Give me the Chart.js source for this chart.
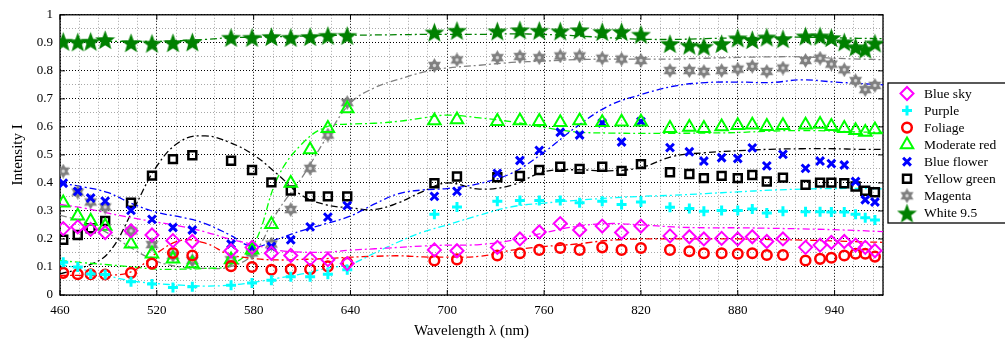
<!DOCTYPE html>
<html>
<head>
<meta charset="utf-8">
<script src="https://cdn.jsdelivr.net/npm/chart.js@4.4.1/dist/chart.umd.min.js"></script>
<style>
html, body { margin: 0; padding: 0; background: #fff; }
#graph { display: block; }
</style>
</head>
<body>
<canvas id="graph" width="1005" height="345"></canvas>
<script>
// measured samples (nm)
const wavelengths = [462, 471, 479, 488, 504, 517, 530, 542, 566, 579, 591, 603, 615, 626, 638, 692, 706, 731, 745, 757,
                     770, 782, 796, 808, 820, 838, 850, 859, 870, 880, 889, 898, 908, 922, 931, 938, 946, 953, 959, 965];

const blueSky     = [0.237, 0.243, 0.234, 0.223, 0.229, 0.214, 0.194, 0.191, 0.158, 0.170, 0.149, 0.141, 0.129, 0.126, 0.112, 0.161, 0.158, 0.170, 0.200, 0.225,
                     0.255, 0.232, 0.246, 0.223, 0.246, 0.211, 0.208, 0.200, 0.202, 0.200, 0.208, 0.191, 0.200, 0.170, 0.178, 0.188, 0.191, 0.178, 0.170, 0.158];
const purple      = [0.117, 0.100, 0.075, 0.073, 0.047, 0.039, 0.027, 0.029, 0.035, 0.043, 0.053, 0.065, 0.065, 0.074, 0.090, 0.288, 0.314, 0.335, 0.337, 0.337,
                     0.337, 0.329, 0.335, 0.323, 0.332, 0.313, 0.309, 0.299, 0.302, 0.302, 0.307, 0.293, 0.299, 0.297, 0.297, 0.296, 0.296, 0.288, 0.276, 0.268];
const foliage     = [0.079, 0.074, 0.074, 0.073, 0.079, 0.112, 0.150, 0.141, 0.103, 0.100, 0.090, 0.092, 0.092, 0.102, 0.115, 0.123, 0.127, 0.141, 0.149, 0.161,
                     0.168, 0.161, 0.170, 0.161, 0.168, 0.161, 0.156, 0.149, 0.149, 0.147, 0.149, 0.143, 0.143, 0.123, 0.129, 0.133, 0.141, 0.147, 0.147, 0.137];
const moderateRed = [0.329, 0.282, 0.264, 0.246, 0.182, 0.147, 0.129, 0.112, 0.126, 0.161, 0.252, 0.399, 0.519, 0.595, 0.665, 0.622, 0.626, 0.620, 0.622, 0.620,
                     0.616, 0.622, 0.616, 0.618, 0.618, 0.595, 0.599, 0.595, 0.601, 0.605, 0.607, 0.602, 0.605, 0.607, 0.610, 0.602, 0.595, 0.587, 0.581, 0.590];
const blueFlower  = [0.399, 0.370, 0.346, 0.335, 0.302, 0.270, 0.241, 0.232, 0.182, 0.170, 0.173, 0.197, 0.243, 0.278, 0.319, 0.352, 0.370, 0.434, 0.480, 0.516,
                     0.581, 0.571, 0.614, 0.546, 0.619, 0.526, 0.511, 0.478, 0.490, 0.487, 0.525, 0.461, 0.502, 0.452, 0.478, 0.469, 0.464, 0.405, 0.340, 0.332];
const yellowGreen = [0.197, 0.214, 0.238, 0.264, 0.329, 0.426, 0.485, 0.499, 0.479, 0.446, 0.402, 0.373, 0.352, 0.352, 0.352, 0.399, 0.423, 0.420, 0.425, 0.446,
                     0.458, 0.450, 0.458, 0.443, 0.467, 0.438, 0.432, 0.417, 0.425, 0.417, 0.428, 0.405, 0.419, 0.393, 0.401, 0.401, 0.399, 0.387, 0.372, 0.367];
const magenta     = [0.442, 0.367, 0.332, 0.314, 0.229, 0.180, 0.141, 0.123, 0.126, 0.150, 0.182, 0.305, 0.452, 0.571, 0.687, 0.819, 0.839, 0.847, 0.851, 0.847,
                     0.853, 0.853, 0.845, 0.842, 0.837, 0.801, 0.801, 0.798, 0.801, 0.806, 0.816, 0.798, 0.810, 0.837, 0.845, 0.824, 0.804, 0.765, 0.733, 0.748];
const white95     = [0.906, 0.904, 0.906, 0.912, 0.901, 0.899, 0.901, 0.904, 0.920, 0.920, 0.923, 0.920, 0.923, 0.927, 0.927, 0.939, 0.945, 0.943, 0.947, 0.945,
                     0.943, 0.947, 0.941, 0.941, 0.931, 0.898, 0.892, 0.888, 0.898, 0.918, 0.912, 0.921, 0.915, 0.925, 0.925, 0.919, 0.904, 0.886, 0.878, 0.900];

// fitted curves, read at these wavelengths
const fitNm = [460, 475, 490, 505, 520, 535, 550, 565, 580, 595, 610, 625, 640, 655, 670, 685, 700, 720, 740, 760,
               780, 800, 820, 840, 860, 880, 900, 920, 940, 955, 970];
const blueSkyFit     = [0.323, 0.310, 0.292, 0.275, 0.260, 0.245, 0.225, 0.200, 0.180, 0.160, 0.153, 0.153, 0.160, 0.165, 0.170, 0.175, 0.178, 0.180, 0.195, 0.222,
                        0.245, 0.255, 0.250, 0.243, 0.240, 0.240, 0.238, 0.236, 0.233, 0.230, 0.226];
const purpleFit      = [0.110, 0.090, 0.068, 0.050, 0.041, 0.035, 0.032, 0.035, 0.045, 0.060, 0.075, 0.095, 0.110, 0.150, 0.190, 0.225, 0.250, 0.285, 0.315, 0.328,
                        0.338, 0.346, 0.352, 0.356, 0.362, 0.368, 0.374, 0.378, 0.380, 0.380, 0.379];
const foliageFit     = [0.070, 0.070, 0.070, 0.085, 0.150, 0.195, 0.185, 0.145, 0.130, 0.125, 0.127, 0.130, 0.135, 0.138, 0.140, 0.136, 0.135, 0.138, 0.160, 0.173,
                        0.182, 0.195, 0.200, 0.200, 0.200, 0.200, 0.198, 0.196, 0.193, 0.190, 0.188];
const moderateRedFit = [0.123, 0.115, 0.108, 0.100, 0.092, 0.092, 0.095, 0.105, 0.180, 0.420, 0.540, 0.600, 0.610, 0.613, 0.620, 0.632, 0.642, 0.632, 0.618, 0.598,
                        0.582, 0.578, 0.577, 0.577, 0.578, 0.580, 0.585, 0.587, 0.585, 0.582, 0.580];
const blueFlowerFit  = [0.400, 0.385, 0.365, 0.325, 0.295, 0.278, 0.255, 0.215, 0.172, 0.200, 0.230, 0.255, 0.282, 0.325, 0.362, 0.375, 0.380, 0.398, 0.435, 0.510,
                        0.600, 0.675, 0.715, 0.745, 0.758, 0.760, 0.758, 0.768, 0.760, 0.755, 0.750];
const yellowGreenFit = [0.075, 0.100, 0.150, 0.300, 0.460, 0.550, 0.568, 0.545, 0.500, 0.430, 0.355, 0.322, 0.311, 0.305, 0.330, 0.370, 0.400, 0.378, 0.392, 0.440,
                        0.447, 0.443, 0.455, 0.495, 0.508, 0.515, 0.520, 0.522, 0.522, 0.520, 0.520];
const magentaFit     = [0.285, 0.260, 0.220, 0.165, 0.120, 0.100, 0.095, 0.100, 0.148, 0.300, 0.420, 0.560, 0.685, 0.740, 0.770, 0.795, 0.810, 0.820, 0.830, 0.835,
                        0.840, 0.842, 0.842, 0.842, 0.845, 0.848, 0.850, 0.850, 0.845, 0.842, 0.840];
const white95Fit     = [0.905, 0.905, 0.905, 0.905, 0.905, 0.908, 0.912, 0.918, 0.920, 0.922, 0.924, 0.926, 0.927, 0.928, 0.929, 0.930, 0.930, 0.930, 0.932, 0.930,
                        0.925, 0.918, 0.913, 0.912, 0.915, 0.918, 0.920, 0.920, 0.918, 0.916, 0.915];

const xTickLabels = [460, 520, 580, 640, 700, 760, 820, 880, 940];
const yTickLabels = ['0', '0.1', '0.2', '0.3', '0.4', '0.5', '0.6', '0.7', '0.8', '0.9', '1'];

const SERIF = '"Liberation Serif", "Times New Roman", serif';
Chart.defaults.font.family = SERIF;
Chart.defaults.color = '#000';

// filled 5 point star
function makeStar(size, color) {
    const c = document.createElement('canvas');
    c.width = size; c.height = size;
    const g = c.getContext('2d');
    const R = size / 2, r = R * 0.42, cx = size / 2, cy = size / 2 + size * 0.06;
    g.beginPath();
    for (let i = 0; i < 10; i++) {
        const a = -Math.PI / 2 + i * Math.PI / 5;
        const rad = i % 2 === 0 ? R : r;
        g.lineTo(cx + rad * Math.cos(a), cy + rad * Math.sin(a));
    }
    g.closePath();
    g.fillStyle = color;
    g.fill();
    return c;
}

// six point star with a light centre
function makeHexagram(size, color) {
    const c = document.createElement('canvas');
    c.width = size; c.height = size;
    const g = c.getContext('2d');
    const R = size / 2, cx = size / 2, cy = size / 2;
    g.fillStyle = color;
    for (let t = 0; t < 2; t++) {
        g.beginPath();
        for (let i = 0; i < 3; i++) {
            const a = -Math.PI / 2 + t * Math.PI + i * 2 * Math.PI / 3;
            g.lineTo(cx + R * Math.cos(a), cy + R * Math.sin(a));
        }
        g.closePath();
        g.fill();
    }
    g.beginPath();
    g.arc(cx, cy, R * 0.22, 0, Math.PI * 2);
    g.fillStyle = '#d8d8d8';
    g.fill();
    return c;
}

const series = [
    {label: 'Blue sky',     data: blueSky,     fit: blueSkyFit,     color: '#ff00ff', style: 'rectRot',  r: 6.5, bw: 2},
    {label: 'Purple',       data: purple,      fit: purpleFit,      color: '#00ffff', style: 'cross',    r: 5,   bw: 3},
    {label: 'Foliage',      data: foliage,     fit: foliageFit,     color: '#ff0000', style: 'circle',   r: 4.8, bw: 2.5},
    {label: 'Moderate red', data: moderateRed, fit: moderateRedFit, color: '#00ff00', style: 'triangle', r: 7.2, bw: 2},
    {label: 'Blue flower',  data: blueFlower,  fit: blueFlowerFit,  color: '#0000ff', style: 'crossRot', r: 5.5, bw: 3},
    {label: 'Yellow green', data: yellowGreen, fit: yellowGreenFit, color: '#000000', style: 'rect',     r: 5.6, bw: 2.5},
    {label: 'Magenta',      data: magenta,     fit: magentaFit,     color: '#808080', style: makeHexagram(15, '#808080'), r: 7, bw: 0},
    {label: 'White 9.5',    data: white95,     fit: white95Fit,     color: '#008000', style: makeStar(21, '#008000'),    r: 10, bw: 0}
];

var datasets = [];
for (let i = 0; i < series.length; i++) {
    const s = series[i];
    datasets.push({
        label: s.label,
        data: wavelengths.map((w, j) => ({x: w, y: s.data[j]})),
        showLine: false,
        pointStyle: s.style,
        pointRadius: s.r,
        pointBorderWidth: s.bw,
        pointBorderColor: s.color,
        pointBackgroundColor: 'rgba(0,0,0,0)',
        order: 0
    });
    datasets.push({
        label: s.label + ' fit',
        data: fitNm.map((w, j) => ({x: w, y: s.fit[j]})),
        showLine: true,
        borderColor: s.color,
        borderWidth: 1.3,
        borderDash: [7, 3, 2, 3],
        tension: 0.4,
        pointRadius: 0,
        order: 1
    });
}

function isMajorX(v) { return xTickLabels.includes(Math.round(v)); }
function isMajorY(v) { return Math.round(v * 100) % 10 === 0; }

// frame, inward tick marks and the boxed legend
const framePlugin = {
    id: 'frame',
    beforeDatasetsDraw(chart) {
        const {ctx, chartArea: a, scales} = chart;
        ctx.save();
        ctx.strokeStyle = '#000';
        ctx.lineWidth = 1.3;
        ctx.strokeRect(a.left, a.top, a.right - a.left, a.bottom - a.top);
        ctx.lineWidth = 1;
        ctx.beginPath();
        xTickLabels.forEach(v => {
            const px = scales.x.getPixelForValue(v);
            ctx.moveTo(px, a.bottom); ctx.lineTo(px, a.bottom - 5);
            ctx.moveTo(px, a.top); ctx.lineTo(px, a.top + 5);
        });
        yTickLabels.forEach(t => {
            const py = scales.y.getPixelForValue(parseFloat(t));
            ctx.moveTo(a.left, py); ctx.lineTo(a.left + 5, py);
            ctx.moveTo(a.right, py); ctx.lineTo(a.right - 5, py);
        });
        ctx.stroke();
        ctx.restore();
    },
    afterDraw(chart) {
        const ctx = chart.ctx;
        const boxL = 888, boxT = 83, boxB = 223;
        ctx.save();
        ctx.fillStyle = '#fff';
        ctx.fillRect(boxL, boxT, 1005 - boxL + 5, boxB - boxT);
        ctx.strokeStyle = '#000';
        ctx.lineWidth = 1.3;
        ctx.strokeRect(boxL, boxT, 1005 - boxL + 5, boxB - boxT);
        ctx.font = '13.5px ' + SERIF;
        ctx.textBaseline = 'middle';
        for (let i = 0; i < series.length; i++) {
            const s = series[i];
            const y = 93.5 + i * 17.05;
            ctx.strokeStyle = s.color;
            ctx.fillStyle = 'rgba(0,0,0,0)';
            ctx.lineWidth = s.bw;
            Chart.helpers.drawPoint(ctx, {pointStyle: s.style, radius: s.r, borderWidth: s.bw, rotation: 0}, 907, y);
            ctx.fillStyle = '#000';
            ctx.fillText(s.label, 924, y + 1);
        }
        ctx.restore();
    }
};

const ctx = document.getElementById('graph');
var chart = new Chart(ctx, {
    type: 'scatter',
    data: {datasets: datasets},
    options: {
        responsive: false,
        animation: false,
        layout: {padding: {left: 0, right: 122, top: 11, bottom: 0}},
        plugins: {legend: {display: false}, tooltip: {enabled: false}},
        scales: {
            x: {
                type: 'linear', min: 460, max: 970,
                afterFit: s => { s.height = 50; },
                afterBuildTicks: s => {
                    const t = [];
                    for (let v = 460; v <= 970; v += 12) t.push({value: v});
                    t.push({value: 970});
                    s.ticks = t;
                },
                ticks: {
                    autoSkip: false, maxRotation: 0, padding: 8,
                    font: {size: 13},
                    callback: v => isMajorX(v) ? String(Math.round(v)) : ''
                },
                grid: {
                    drawTicks: false,
                    color: c => (c.tick && isMajorX(c.tick.value)) ? '#000' : '#a8a8a8'
                },
                border: {display: false, dash: [1, 2]},
                title: {display: true, text: 'Wavelength λ (nm)', font: {size: 15}, padding: {top: 0, bottom: 5}}
            },
            y: {
                min: 0, max: 1,
                afterFit: s => { s.width = 60; },
                ticks: {
                    stepSize: 0.05, autoSkip: false, padding: 7,
                    font: {size: 13},
                    callback: v => isMajorY(v) ? yTickLabels[Math.round(v * 10)] : ''
                },
                grid: {
                    drawTicks: false,
                    color: c => (c.tick && isMajorY(c.tick.value)) ? '#000' : '#a8a8a8'
                },
                border: {display: false, dash: [1, 2]},
                title: {display: true, text: 'Intensity I', font: {size: 15}, padding: {top: 9, bottom: 0}}
            }
        }
    },
    plugins: [framePlugin]
});
</script>
</body>
</html>
